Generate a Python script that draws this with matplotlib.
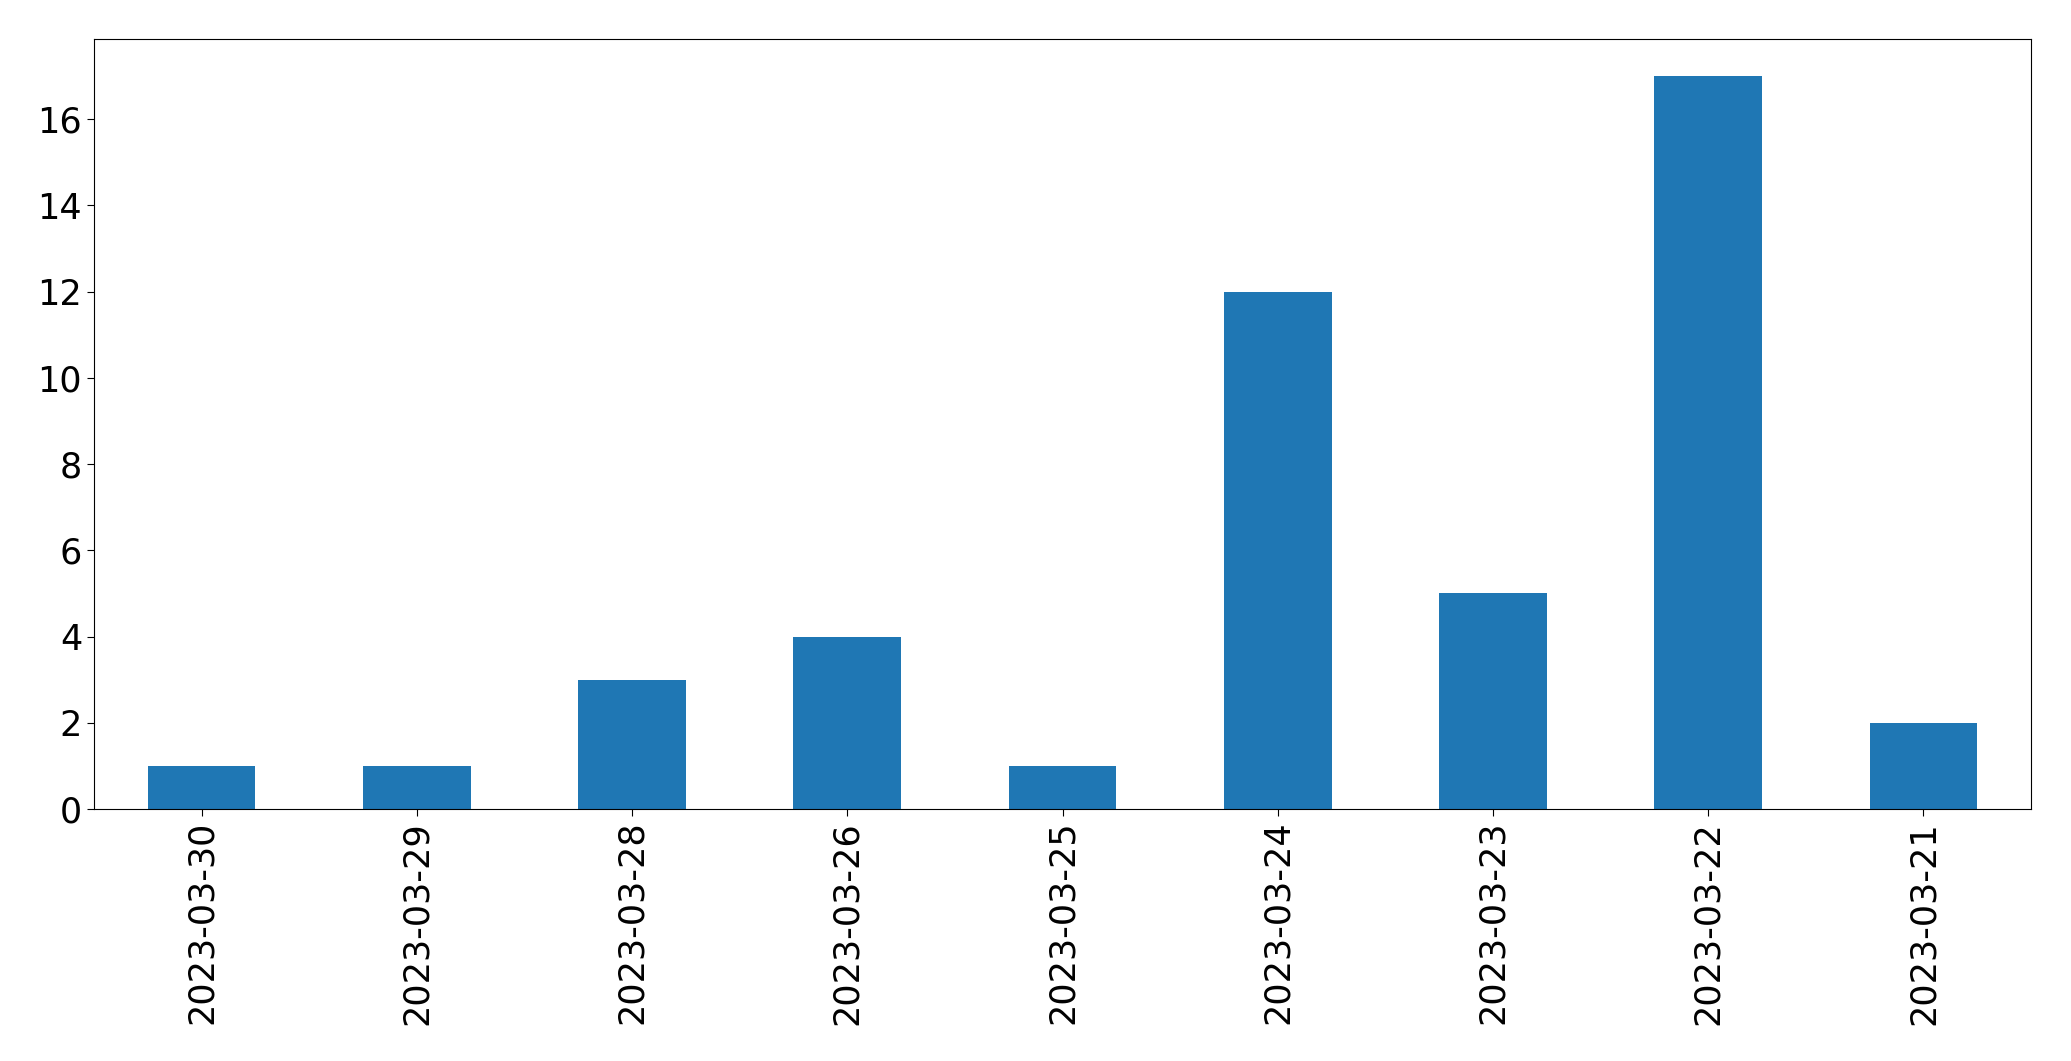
import matplotlib
matplotlib.use('Agg')
import matplotlib.pyplot as plt
import pandas as pd

# contagem por data
datas = ['2023-03-30', '2023-03-29', '2023-03-28', '2023-03-26', '2023-03-25',
         '2023-03-24', '2023-03-23', '2023-03-22', '2023-03-21']
contagens = [1, 1, 3, 4, 1, 12, 5, 17, 2]

serie = pd.Series(contagens, index=datas)

fig = plt.figure(figsize=(20.71, 10.61), dpi=100)
ax = fig.add_axes([0.0454, 0.2375, 0.9353, 0.7255])
serie.plot(kind='bar', ax=ax, color='#1f77b4')
ax.tick_params(axis='both', labelsize=25.2, length=5)
plt.setp(ax.get_xticklabels(), rotation=90)
ax.set_yticks(range(0, 17, 2))

fig.savefig('out.png', dpi=100)
